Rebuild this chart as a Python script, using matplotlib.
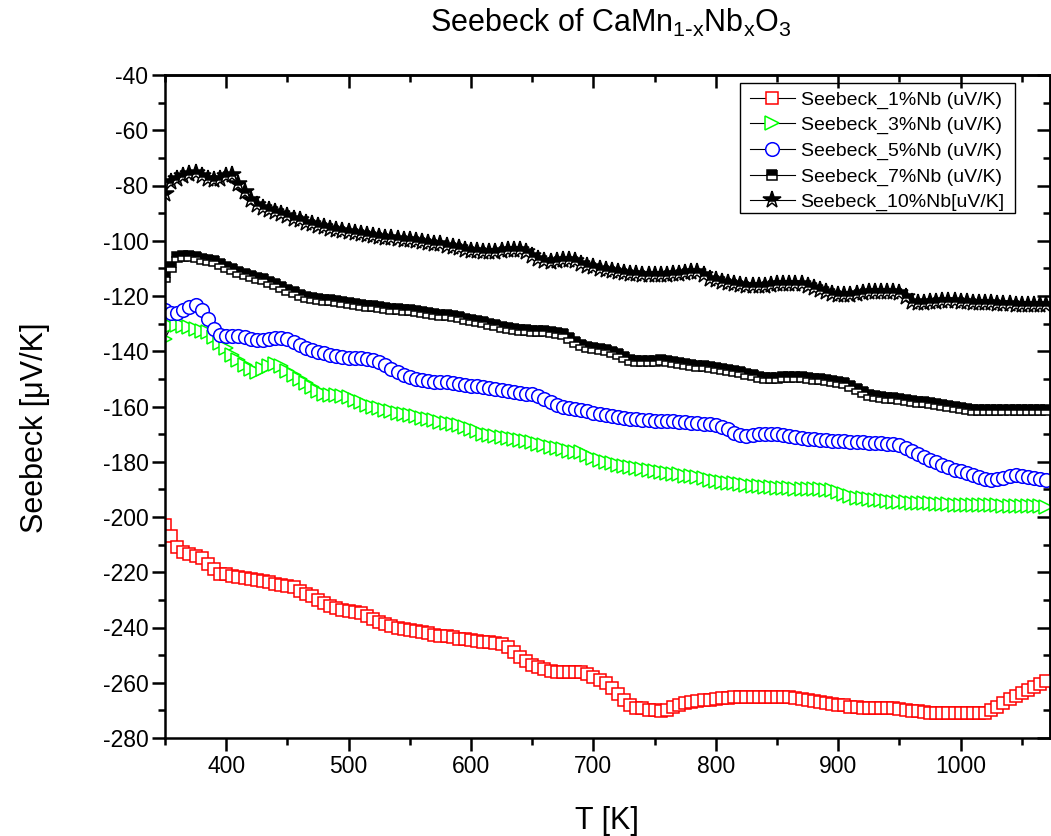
import matplotlib
matplotlib.use('Agg')
import matplotlib.pyplot as plt
from matplotlib.ticker import MultipleLocator
from matplotlib.patches import Rectangle

plt.rcParams['font.family'] = ['Liberation Sans', 'DejaVu Sans']
plt.rcParams['mathtext.default'] = 'regular'
plt.rcParams['axes.unicode_minus'] = False

# ---------------- data ----------------
T = [350, 355, 360, 365, 370, 375, 380, 385, 390, 395,
     400, 405, 410, 415, 420, 425, 430, 435, 440, 445,
     450, 455, 460, 465, 470, 475, 480, 485, 490, 495,
     500, 505, 510, 515, 520, 525, 530, 535, 540, 545,
     550, 555, 560, 565, 570, 575, 580, 585, 590, 595,
     600, 605, 610, 615, 620, 625, 630, 635, 640, 645,
     650, 655, 660, 665, 670, 675, 680, 685, 690, 695,
     700, 705, 710, 715, 720, 725, 730, 735, 740, 745,
     750, 755, 760, 765, 770, 775, 780, 785, 790, 795,
     800, 805, 810, 815, 820, 825, 830, 835, 840, 845,
     850, 855, 860, 865, 870, 875, 880, 885, 890, 895,
     900, 905, 910, 915, 920, 925, 930, 935, 940, 945,
     950, 955, 960, 965, 970, 975, 980, 985, 990, 995,
     1000, 1005, 1010, 1015, 1020, 1025, 1030, 1035, 1040, 1045,
     1050, 1055, 1060, 1065, 1070]

s_1nb = [-203, -207, -211, -212.5, -213.4, -214, -215, -217, -219, -220.5,
         -220.8, -221.2, -221.6, -222, -222.4, -222.8, -223.2, -223.6, -224.1, -224.6,
         -225.1, -225.5, -226.8, -227.7, -228.7, -229.9, -231.1, -232.1, -232.9, -233.5,
         -233.9, -234.3, -234.8, -235.7, -237.1, -238.1, -238.9, -239.6, -240, -240.5,
         -241, -241.4, -241.7, -242.1, -242.6, -242.9, -243.2, -243.6, -244.0, -244.3,
         -244.6, -244.9, -245.2, -245.4, -245.6, -245.8, -247.1, -248.9, -250.7, -252.1,
         -253.4, -254.3, -255, -255.6, -256.1, -256.1, -256.1, -256.1, -256.1, -257,
         -257.9, -258.9, -260.1, -261.9, -263.9, -266.1, -268.2, -269.1, -269.3, -269.7,
         -270, -270.1, -269.7, -268.9, -268, -267.3, -266.9, -266.7, -266.4, -266.1,
         -265.9, -265.7, -265.5, -265.3, -265.2, -265.1, -265.1, -265.1, -265.1, -265.1,
         -265.1, -265.1, -265.2, -265.5, -265.9, -266.4, -266.7, -267.1, -267.4, -267.6,
         -268, -268.2, -268.6, -268.8, -269.1, -269.2, -269.2, -269.2, -269.2, -269.2,
         -269.4, -269.8, -270.2, -270.4, -270.6, -270.9, -271, -271, -271, -271,
         -271, -271, -271, -271, -271, -269.8, -268.6, -267.4, -265.9, -264.9,
         -263.7, -262.5, -261.5, -260.6, -259.4]

s_3nb = [-135.5, -131, -130.5, -130.8, -131.2, -131.8, -132.5, -133, -135, -137,
         -139, -141.5, -143, -145, -146.5, -147.5, -146.5, -145.5, -144.5, -145.5,
         -147, -148.5, -150, -151.5, -153, -154.5, -155.5, -156, -156, -156.2,
         -156.5, -157.5, -158.5, -159.3, -160, -160.7, -161.3, -161.8, -162.2, -162.6,
         -163, -163.5, -164, -164.5, -165, -165.5, -166, -166.3, -166.8, -167.5,
         -168.3, -169, -169.8, -170.3, -170.7, -171, -171.3, -171.6, -172, -172.5,
         -173, -173.5, -174, -174.5, -175, -175.5, -176, -176.3, -176.6, -177.5,
         -178.5, -179.3, -180, -180.5, -181, -181.5, -182, -182.3, -182.6, -183,
         -183.3, -183.6, -184, -184.3, -184.6, -185, -185.3, -185.6, -186, -186.5,
         -187, -187.3, -187.6, -187.8, -188, -188.3, -188.6, -188.8, -189, -189.2,
         -189.4, -189.5, -189.6, -189.7, -189.8, -189.8, -189.8, -190, -190.2, -190.4,
         -191, -191.8, -192.5, -193, -193.3, -193.6, -193.8, -194, -194.2, -194.4,
         -194.5, -194.6, -194.8, -195, -195, -195.1, -195.2, -195.3, -195.4, -195.5,
         -195.5, -195.6, -195.6, -195.7, -195.7, -195.8, -195.8, -195.9, -195.9, -196,
         -196, -196, -196.1, -196.1, -196.2]

s_5nb = [-124.9, -126.1, -126, -124.9, -124, -123.3, -125.1, -128.2, -131.8, -134.2,
         -134.6, -134.5, -134.6, -135, -135.7, -136, -136, -135.7, -135.2, -135.2,
         -135.7, -136.6, -137.8, -138.8, -139.6, -140.3, -140.8, -141.4, -141.8, -142.1,
         -142.3, -142.5, -142.6, -142.8, -143.3, -143.9, -145.1, -146.3, -147.5, -148.5,
         -149.3, -149.9, -150.5, -150.9, -151.1, -151.2, -151.3, -151.5, -151.8, -152.2,
         -152.5, -152.7, -152.9, -153.3, -153.7, -154, -154.4, -154.7, -155, -155.3,
         -155.6, -156.2, -157.3, -158.3, -159.3, -160, -160.5, -161, -161.4, -161.8,
         -162.3, -162.6, -163, -163.5, -163.8, -164.1, -164.4, -164.6, -164.8, -165,
         -165.1, -165.2, -165.2, -165.4, -165.5, -165.6, -165.8, -166, -166.2, -166.5,
         -166.8, -167.5, -168.3, -169.5, -170.4, -170.6, -170.3, -170, -169.9, -169.8,
         -170, -170.4, -170.8, -171.1, -171.4, -171.6, -171.9, -172.1, -172.3, -172.4,
         -172.5, -172.6, -172.7, -172.8, -173, -173.1, -173.2, -173.3, -173.4, -173.6,
         -174, -175, -176, -177.2, -178.3, -179.3, -180.2, -181, -182, -183,
         -183.5, -184.2, -184.9, -185.5, -186.3, -186.7, -186.4, -185.8, -185.1, -184.9,
         -185.1, -185.4, -185.8, -186.1, -186.6]

s_7nb = [-113, -109.5, -105.8, -105.5, -105.7, -106, -106.5, -106.9, -107.3, -108.3,
         -109.5, -110.4, -111.3, -112, -112.8, -113.4, -114, -114.8, -115.7, -116.7,
         -117.7, -118.7, -119.7, -120.2, -120.7, -121, -121.3, -121.5, -121.8, -122.1,
         -122.5, -122.8, -123.2, -123.5, -123.8, -124.1, -124.4, -124.6, -124.8, -124.9,
         -125.2, -125.5, -125.8, -126.2, -126.6, -126.8, -127, -127.3, -127.7, -128.2,
         -128.6, -129, -129.4, -130, -130.6, -131.1, -131.6, -132, -132.2, -132.4,
         -132.5, -132.7, -132.8, -133, -133.4, -133.9, -135.2, -136.7, -137.8, -138.4,
         -138.8, -139.1, -139.7, -140.3, -141, -142.2, -143.3, -143.5, -143.6, -143.5,
         -143.4, -143.3, -143.5, -144, -144.4, -144.6, -144.9, -145.2, -145.4, -145.7,
         -146, -146.3, -146.7, -147.1, -147.5, -148.2, -148.7, -149.3, -149.8, -149.8,
         -149.6, -149.4, -149.3, -149.3, -149.5, -149.7, -149.9, -150.1, -150.4, -150.7,
         -151, -151.6, -152.6, -153.7, -154.8, -155.7, -156.3, -156.6, -156.8, -157,
         -157.3, -157.6, -157.9, -158.2, -158.4, -158.7, -159, -159.3, -159.7, -160.2,
         -160.7, -161, -161.1, -161.1, -161.1, -161.1, -161.1, -161.1, -161.1, -161.1,
         -161.1, -161.1, -161.1, -161.1, -161.1]

s_10nb = [-82.9, -78.7, -77.5, -76.6, -75.7, -75.4, -76.6, -77.8, -78.1, -77.5,
          -76.6, -76.3, -79.3, -82.3, -85.3, -87.1, -88, -88.7, -89.6, -90.4,
          -91.1, -92, -92.6, -93.4, -94.1, -94.6, -95.2, -95.6, -96, -96.4,
          -96.8, -97.2, -97.6, -98, -98.3, -98.6, -98.9, -99.1, -99.4, -99.6,
          -99.9, -100.1, -100.4, -100.7, -101, -101.3, -101.8, -102.3, -102.8, -103.2,
          -103.6, -103.8, -104, -104, -103.9, -103.7, -103.5, -103.4, -103.4, -104,
          -105.5, -106.5, -107.2, -107.7, -107.5, -107, -106.8, -107.5, -108.3, -109,
          -109.6, -110.1, -110.6, -111, -111.3, -111.6, -111.9, -112.1, -112.3, -112.5,
          -112.5, -112.5, -112.5, -112.2, -112, -111.7, -111.4, -111.3, -112.5, -113.7,
          -114.3, -114.9, -115.3, -115.6, -116, -116.3, -116.5, -116.4, -116.2, -116,
          -115.8, -115.6, -115.5, -115.5, -115.7, -116.2, -117, -117.8, -118.6, -119.2,
          -119.6, -119.8, -119.7, -119.4, -119, -118.7, -118.5, -118.4, -118.4, -118.5,
          -119, -120.5, -122, -122.7, -122.5, -122.2, -122, -121.8, -121.8, -121.9,
          -122, -122.2, -122.4, -122.5, -122.6, -122.7, -122.8, -122.9, -123, -123.1,
          -123.2, -123.2, -123.3, -123.3, -123.4]

labels = ['Seebeck_1%Nb (uV/K)', 'Seebeck_3%Nb (uV/K)', 'Seebeck_5%Nb (uV/K)',
          'Seebeck_7%Nb (uV/K)', 'Seebeck_10%Nb[uV/K]']
x_ticks = [400, 500, 600, 700, 800, 900, 1000]
y_ticks = [-280, -260, -240, -220, -200, -180, -160, -140, -120, -100, -80, -60, -40]

# ---------------- figure ----------------
W, H = 1051, 836
fig = plt.figure(figsize=(W / 100, H / 100), dpi=100)
ax = fig.add_axes([165 / W, (H - 738) / H, 885 / W, 663 / H])

styles = [
    dict(marker='s', ms=8.8, mec='#ff0000', mfc='white', fillstyle='full'),
    dict(marker='>', ms=9.8, mec='#00ff00', mfc='white', fillstyle='full'),
    dict(marker='o', ms=9.8, mec='#0000ff', mfc='white', fillstyle='full'),
    dict(marker='s', ms=7.8, mec='black', mfc='black', fillstyle='top',
         markerfacecoloralt='white'),
    dict(marker='*', ms=13, mec='black', mfc='black', fillstyle='top',
         markerfacecoloralt='white'),
]
for vals, lab, st in zip([s_1nb, s_3nb, s_5nb, s_7nb, s_10nb], labels, styles):
    ax.plot(T, vals, color='black', lw=0.8, mew=1.1, label=lab, **st)

ax.set_xlim(350, 1073)
ax.set_ylim(-280, -40)
ax.set_xticks(x_ticks)
ax.set_yticks(y_ticks)
ax.xaxis.set_minor_locator(MultipleLocator(50))
ax.yaxis.set_minor_locator(MultipleLocator(10))
ax.tick_params(which='major', direction='out', length=9.4, width=1.8,
               labelsize=16.5, pad=2.5)
ax.tick_params(which='minor', direction='out', length=5, width=1.8)
for s in ax.spines.values():
    s.set_linewidth(1.8)

secx = ax.secondary_xaxis('top')
secx.set_xticks(x_ticks)
secx.xaxis.set_minor_locator(MultipleLocator(50))
secx.tick_params(which='major', direction='in', length=9.4, width=1.8, labeltop=False)
secx.tick_params(which='minor', direction='in', length=5, width=1.8)
secx.spines['top'].set_linewidth(1.8)

secy = ax.secondary_yaxis('right')
secy.set_yticks(y_ticks)
secy.yaxis.set_minor_locator(MultipleLocator(10))
secy.tick_params(which='major', direction='in', length=9.4, width=1.8, labelright=False)
secy.tick_params(which='minor', direction='in', length=5, width=1.8)
secy.spines['right'].set_linewidth(1.8)

# legend
leg = ax.legend(loc='upper left', bbox_to_anchor=(750 / W, 1 - 91 / H),
                bbox_transform=fig.transFigure, frameon=False, fontsize=14,
                handlelength=2.3, handletextpad=0.3, labelspacing=0.4,
                borderpad=0, borderaxespad=0, numpoints=1)
fig.patches.append(Rectangle((740 / W, 1 - 213 / H), 275 / W, 130 / H,
                             transform=fig.transFigure, fill=False,
                             lw=1.0, ec='black'))

fig.text(611 / W, 1 - 32 / H,
         r'Seebeck of CaMn$_{1\text{-}x}$Nb$_{x}$O$_{3}$',
         ha='center', va='baseline', fontsize=22)
fig.text(607 / W, 7 / H, 'T [K]', ha='center', va='baseline', fontsize=22)
fig.text(35 / W, 1 - 428 / H, 'Seebeck [\u03bcV/K]', rotation=90,
         ha='center', va='center', fontsize=22)

fig.savefig('out.png', dpi=100)
